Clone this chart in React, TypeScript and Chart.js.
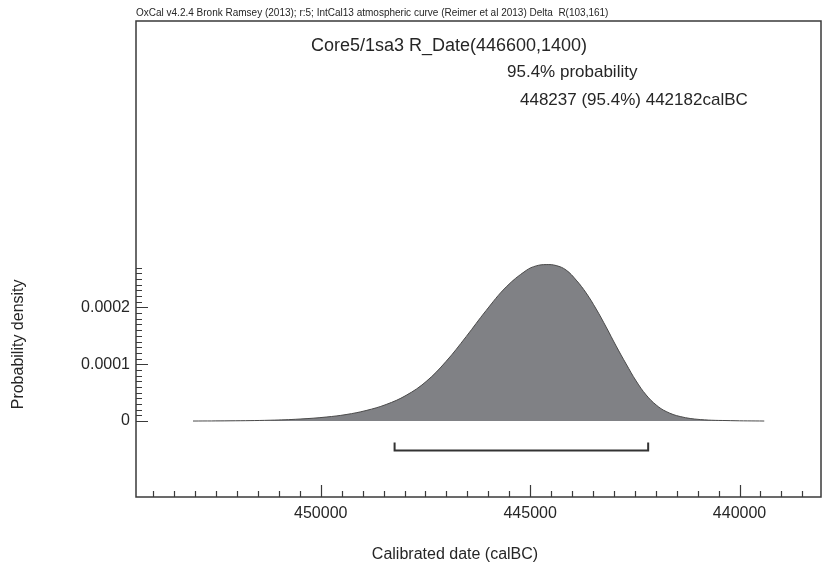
import { useEffect, useRef } from "react";
import { Chart, registerables } from "chart.js";

Chart.register(...registerables);

// calibrated date (calBC) and probability density
const calYears = [
  453051, 452167, 451211, 450495, 449873, 449396, 448918, 448440, 447962, 447485,
  447007, 446529, 446051, 445573, 445096, 444857, 444618, 444379, 444140, 443901,
  443662, 443423, 443185, 442946, 442707, 442468, 442229, 441990, 441751, 441417,
  440939, 440222, 439410,
];
const density = [
  0, 0.00000035, 0.0000014, 0.0000035, 0.000007, 0.0000114, 0.0000185, 0.0000291, 0.0000452, 0.0000695,
  0.0001051, 0.0001486, 0.0001947, 0.0002361, 0.0002651, 0.0002732, 0.0002755, 0.0002738, 0.0002658, 0.0002482,
  0.0002254, 0.0001972, 0.0001655, 0.000132, 0.0001004, 0.0000704, 0.0000458, 0.0000282, 0.0000167, 0.0000079,
  0.0000026, 0.0000007, 0,
];

const xMajorTicks = [450000, 445000, 440000];
const xTickLabels = ["450000", "445000", "440000"];
const xMinorStep = 500;
const xMinorFrom = 438500;
const xMinorTo = 454000;
const yMajorTicks = [0, 0.0001, 0.0002];
const yTickLabels = ["0", "0.0001", "0.0002"];
const yMinorStep = 0.00001;
const yMinorCount = 27;

const xMin = 438055;
const xMax = 454412;
const yMin = -0.0001338;
const yMax = 0.0007045;

const rangeFrom = 448237;
const rangeTo = 442182;

const headerText =
  "OxCal v4.2.4 Bronk Ramsey (2013); r:5; IntCal13 atmospheric curve (Reimer et al 2013) Delta  R(103,161)";
const titleText = "Core5/1sa3 R_Date(446600,1400)";
const probText = "95.4% probability";
const rangeText = "448237 (95.4%) 442182calBC";
const xTitle = "Calibrated date (calBC)";
const yTitle = "Probability density";

const FONT = '"Liberation Sans", Arial, sans-serif';
const INK = "#262626";

const decorPlugin = {
  id: "oxcalDecor",
  afterDraw(chart: any) {
    const ctx = chart.ctx as CanvasRenderingContext2D;
    const a = chart.chartArea;
    const xs = chart.scales.x;
    const ys = chart.scales.y;
    ctx.save();

    // frame
    ctx.strokeStyle = "#3a3a3a";
    ctx.lineWidth = 1.5;
    ctx.strokeRect(a.left, a.top, a.right - a.left, a.bottom - a.top);

    // x ticks (inward)
    ctx.lineWidth = 1.2;
    ctx.beginPath();
    for (let v = xMinorFrom; v <= xMinorTo; v += xMinorStep) {
      const px = Math.round(xs.getPixelForValue(v)) + 0.5;
      const major = xMajorTicks.includes(v);
      ctx.moveTo(px, a.bottom);
      ctx.lineTo(px, a.bottom - (major ? 12 : 6));
    }
    // y ticks (inward)
    for (let i = 0; i <= yMinorCount; i++) {
      const v = i * yMinorStep;
      const py = Math.round(ys.getPixelForValue(v)) + 0.5;
      const major = i % 10 === 0;
      ctx.moveTo(a.left, py);
      ctx.lineTo(a.left + (major ? 12 : 6), py);
    }
    ctx.stroke();

    ctx.fillStyle = INK;
    ctx.font = `16px ${FONT}`;
    ctx.textAlign = "center";
    ctx.textBaseline = "alphabetic";
    xMajorTicks.forEach((v, i) => {
      ctx.fillText(xTickLabels[i], xs.getPixelForValue(v), a.bottom + 21);
    });
    ctx.textAlign = "right";
    ctx.textBaseline = "middle";
    yMajorTicks.forEach((v, i) => {
      ctx.fillText(yTickLabels[i], a.left - 6, ys.getPixelForValue(v));
    });

    // axis titles
    ctx.textAlign = "center";
    ctx.textBaseline = "middle";
    ctx.fillText(xTitle, 455, 555);
    ctx.save();
    ctx.translate(19, (ys.getPixelForValue(0) + ys.getPixelForValue(yMinorCount * yMinorStep)) / 2);
    ctx.rotate(-Math.PI / 2);
    ctx.fillText(yTitle, 0, 0);
    ctx.restore();

    // header
    ctx.font = `10px ${FONT}`;
    ctx.textAlign = "left";
    ctx.textBaseline = "alphabetic";
    ctx.fillText(headerText, a.left, 16);

    // title and range text
    ctx.font = `18px ${FONT}`;
    ctx.textAlign = "center";
    ctx.textBaseline = "middle";
    ctx.fillText(titleText, 449, 46);
    ctx.font = `17px ${FONT}`;
    ctx.textAlign = "left";
    ctx.fillText(probText, 507, 72);
    ctx.fillText(rangeText, 520, 100);

    // range bracket
    const x1 = xs.getPixelForValue(rangeFrom);
    const x2 = xs.getPixelForValue(rangeTo);
    const yb = 450.5;
    ctx.strokeStyle = "#333";
    ctx.lineWidth = 2;
    ctx.beginPath();
    ctx.moveTo(x1, yb - 8);
    ctx.lineTo(x1, yb);
    ctx.lineTo(x2, yb);
    ctx.lineTo(x2, yb - 8);
    ctx.stroke();

    ctx.restore();
  },
};

export default function App() {
  const ref = useRef<HTMLCanvasElement>(null);
  useEffect(() => {
    if (!ref.current) return;
    const chart = new Chart(ref.current, {
      type: "line",
      data: {
        datasets: [
          {
            data: calYears.map((x, i) => ({ x, y: density[i] })),
            borderColor: "#4a4a4a",
            borderWidth: 1,
            backgroundColor: "#808185",
            fill: "origin",
            pointRadius: 0,
            tension: 0.4,
          },
        ],
      },
      options: {
        animation: false,
        responsive: false,
        maintainAspectRatio: false,
        layout: { padding: { left: 136, right: 9, top: 21, bottom: 75 } },
        plugins: { legend: { display: false }, tooltip: { enabled: false }, title: { display: false } },
        scales: {
          x: { type: "linear", reverse: true, min: xMin, max: xMax, display: false },
          y: { type: "linear", min: yMin, max: yMax, display: false },
        },
      },
      plugins: [decorPlugin],
    });
    return () => chart.destroy();
  }, []);
  return (
    <div style={{ position: "absolute", left: 0, top: 0, width: 830, height: 572, background: "#fff" }}>
      <canvas ref={ref} width={830} height={572} />
    </div>
  );
}
